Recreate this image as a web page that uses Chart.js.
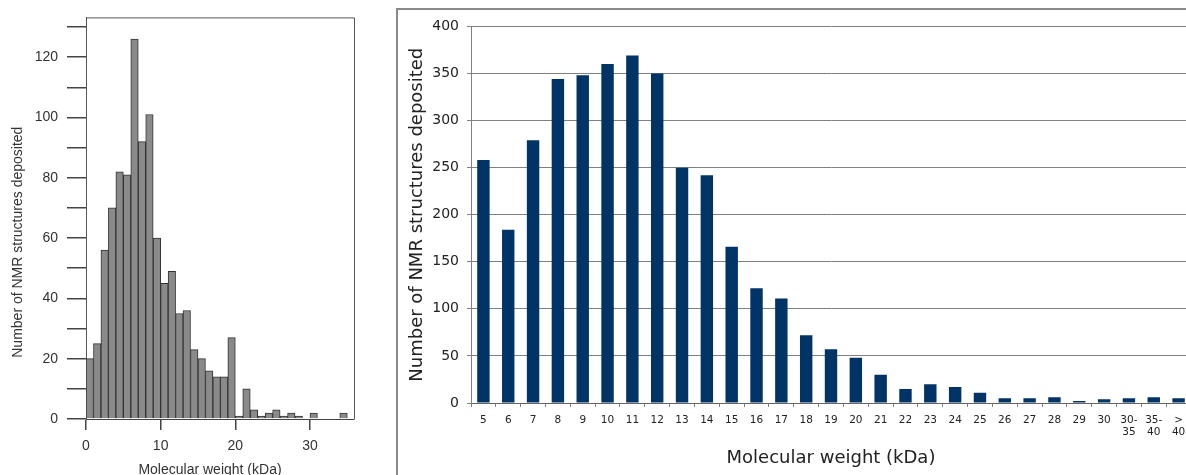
<!DOCTYPE html>
<html>
<head>
<meta charset="utf-8">
<script src="https://cdn.jsdelivr.net/npm/chart.js@4"></script>
<style>
  html, body { margin: 0; padding: 0; background: #fff; overflow: hidden; width: 1186px; height: 475px; }
  #left { position: absolute; left: 0; top: 0; }
  #rightBox { position: absolute; left: 396px; top: 8px; width: 820px; height: 500px;
              border-left: 2px solid #8a8a8a; border-top: 2px solid #8a8a8a; }
  #right { position: absolute; left: 0; top: 0; }
</style>
</head>
<body>
<canvas id="left" width="395" height="490"></canvas>
<div id="rightBox"><canvas id="right" width="810" height="480"></canvas></div>
<script>
// left panel: histogram, 1 kDa bins (bin start -> count)
const binStarts = [0, 1, 2, 3, 4, 5, 6, 7, 8, 9, 10, 11, 12, 13, 14, 15, 16, 17, 18, 19,
                   20, 21, 22, 23, 24, 25, 26, 27, 28, 29, 30, 31, 32, 33, 34];
const binCounts = [20, 25, 56, 70, 82, 81, 126, 92, 101, 60, 45, 49, 35, 36, 23, 20, 16, 14, 14, 27,
                   1, 10, 3, 1, 2, 3, 1, 2, 1, 0, 2, 0, 0, 0, 2];
const histXTicks = [0, 10, 20, 30];
const histYTicks = [0, 10, 20, 30, 40, 50, 60, 70, 80, 90, 100, 110, 120, 130];

// right panel: structures per molecular weight class
const mwLabels = ['5', '6', '7', '8', '9', '10', '11', '12', '13', '14', '15', '16', '17',
                  '18', '19', '20', '21', '22', '23', '24', '25', '26', '27', '28', '29', '30',
                  ['30-', '35'], ['35-', '40'], ['>', '40']];
const nmrCounts = [258, 184, 279, 344, 348, 360, 369, 350, 250, 242, 166, 122, 111,
                   72, 57, 48, 30, 15, 20, 17, 11, 5, 5, 6, 2, 4,
                   5, 6, 5];

const xTitle = 'Molecular weight (kDa)';
const yTitle = 'Number of NMR structures deposited';

// box round the plot + titles placed like the R figure
const leftDecor = {
  id: 'leftDecor',
  afterDraw(chart) {
    const { ctx, chartArea: a } = chart;
    ctx.save();
    ctx.strokeStyle = '#555';
    ctx.lineWidth = 1;
    ctx.beginPath();
    ctx.moveTo(a.left, a.top + 0.5);
    ctx.lineTo(a.right + 0.5, a.top + 0.5);
    ctx.lineTo(a.right + 0.5, a.bottom);
    ctx.stroke();

    ctx.fillStyle = '#333';
    ctx.font = '14px "Liberation Sans", Arial, sans-serif';
    ctx.textAlign = 'center';
    ctx.textBaseline = 'middle';
    ctx.fillText(xTitle, a.left + (a.right - a.left) / 2 - 10, a.bottom + 51);
    ctx.translate(18, a.top + (a.bottom - a.top) / 2 + 24);
    ctx.rotate(-Math.PI / 2);
    ctx.fillText(yTitle, 0, 0);
    ctx.restore();
  }
};

const leftFont = { family: '"Liberation Sans", Arial, sans-serif', size: 14 };

new Chart(document.getElementById('left'), {
  type: 'bar',
  data: {
    datasets: [{
      data: binStarts.map((b, i) => ({ x: b + 0.5, y: binCounts[i] })),
      backgroundColor: '#8a8a8a',
      borderColor: '#333',
      borderWidth: 1,
      barPercentage: 1,
      categoryPercentage: 1
    }]
  },
  options: {
    responsive: false,
    animation: false,
    layout: { padding: { top: 12, right: 41, left: 0, bottom: 0 } },
    plugins: { legend: { display: false }, tooltip: { enabled: false } },
    scales: {
      x: {
        type: 'linear',
        min: 0,
        max: 35.9,
        offset: false,
        afterFit: s => { s.height = 71; },
        afterBuildTicks: s => { s.ticks = histXTicks.map(v => ({ value: v })); },
        ticks: { padding: 8, color: '#333', font: leftFont, maxRotation: 0, autoSkip: false },
        grid: { offset: false, drawOnChartArea: false, tickLength: 11, color: '#444', lineWidth: 1.5 },
        border: { color: '#444', width: 1 }
      },
      y: {
        min: 0,
        max: 133.2,
        afterFit: s => { s.width = 86; },
        afterBuildTicks: s => { s.ticks = histYTicks.map(v => ({ value: v })); },
        ticks: {
          padding: 9, color: '#333', font: leftFont, autoSkip: false,
          callback: v => (v % 20 === 0 ? v : '')
        },
        grid: { drawOnChartArea: false, tickLength: 19, color: '#444', lineWidth: 1.5 },
        border: { color: '#555', width: 1 }
      }
    }
  },
  plugins: [leftDecor]
});

const rightFont = 'DejaVu Sans, Verdana, sans-serif';

new Chart(document.getElementById('right'), {
  type: 'bar',
  data: {
    labels: mwLabels,
    datasets: [{
      data: nmrCounts,
      backgroundColor: '#003366',
      barPercentage: 0.5,
      categoryPercentage: 1
    }]
  },
  options: {
    responsive: false,
    animation: false,
    layout: { padding: { top: 16, right: 17, left: 0, bottom: 0 } },
    plugins: { legend: { display: false }, tooltip: { enabled: false } },
    scales: {
      x: {
        afterFit: s => { s.height = 87; },
        ticks: {
          color: '#222', padding: 7, maxRotation: 0, autoSkip: false,
          font: { family: rightFont, size: 10.5, lineHeight: 1.15 }
        },
        grid: { drawOnChartArea: false, tickLength: 4, color: '#808080' },
        border: { color: '#666', width: 1 },
        title: {
          display: true, text: xTitle, color: '#222',
          font: { family: rightFont, size: 18 },
          padding: { top: 0, bottom: 21 }
        }
      },
      y: {
        min: 0,
        max: 400,
        afterFit: s => { s.width = 73; },
        ticks: { stepSize: 50, padding: 8, color: '#222', font: { family: rightFont, size: 14 } },
        grid: { color: '#808080', tickLength: 4 },
        border: { color: '#808080', width: 1 },
        title: {
          display: true, text: yTitle, color: '#222',
          font: { family: rightFont, size: 18 },
          padding: { top: 9, bottom: 0 }
        }
      }
    }
  }
});
</script>
</body>
</html>
